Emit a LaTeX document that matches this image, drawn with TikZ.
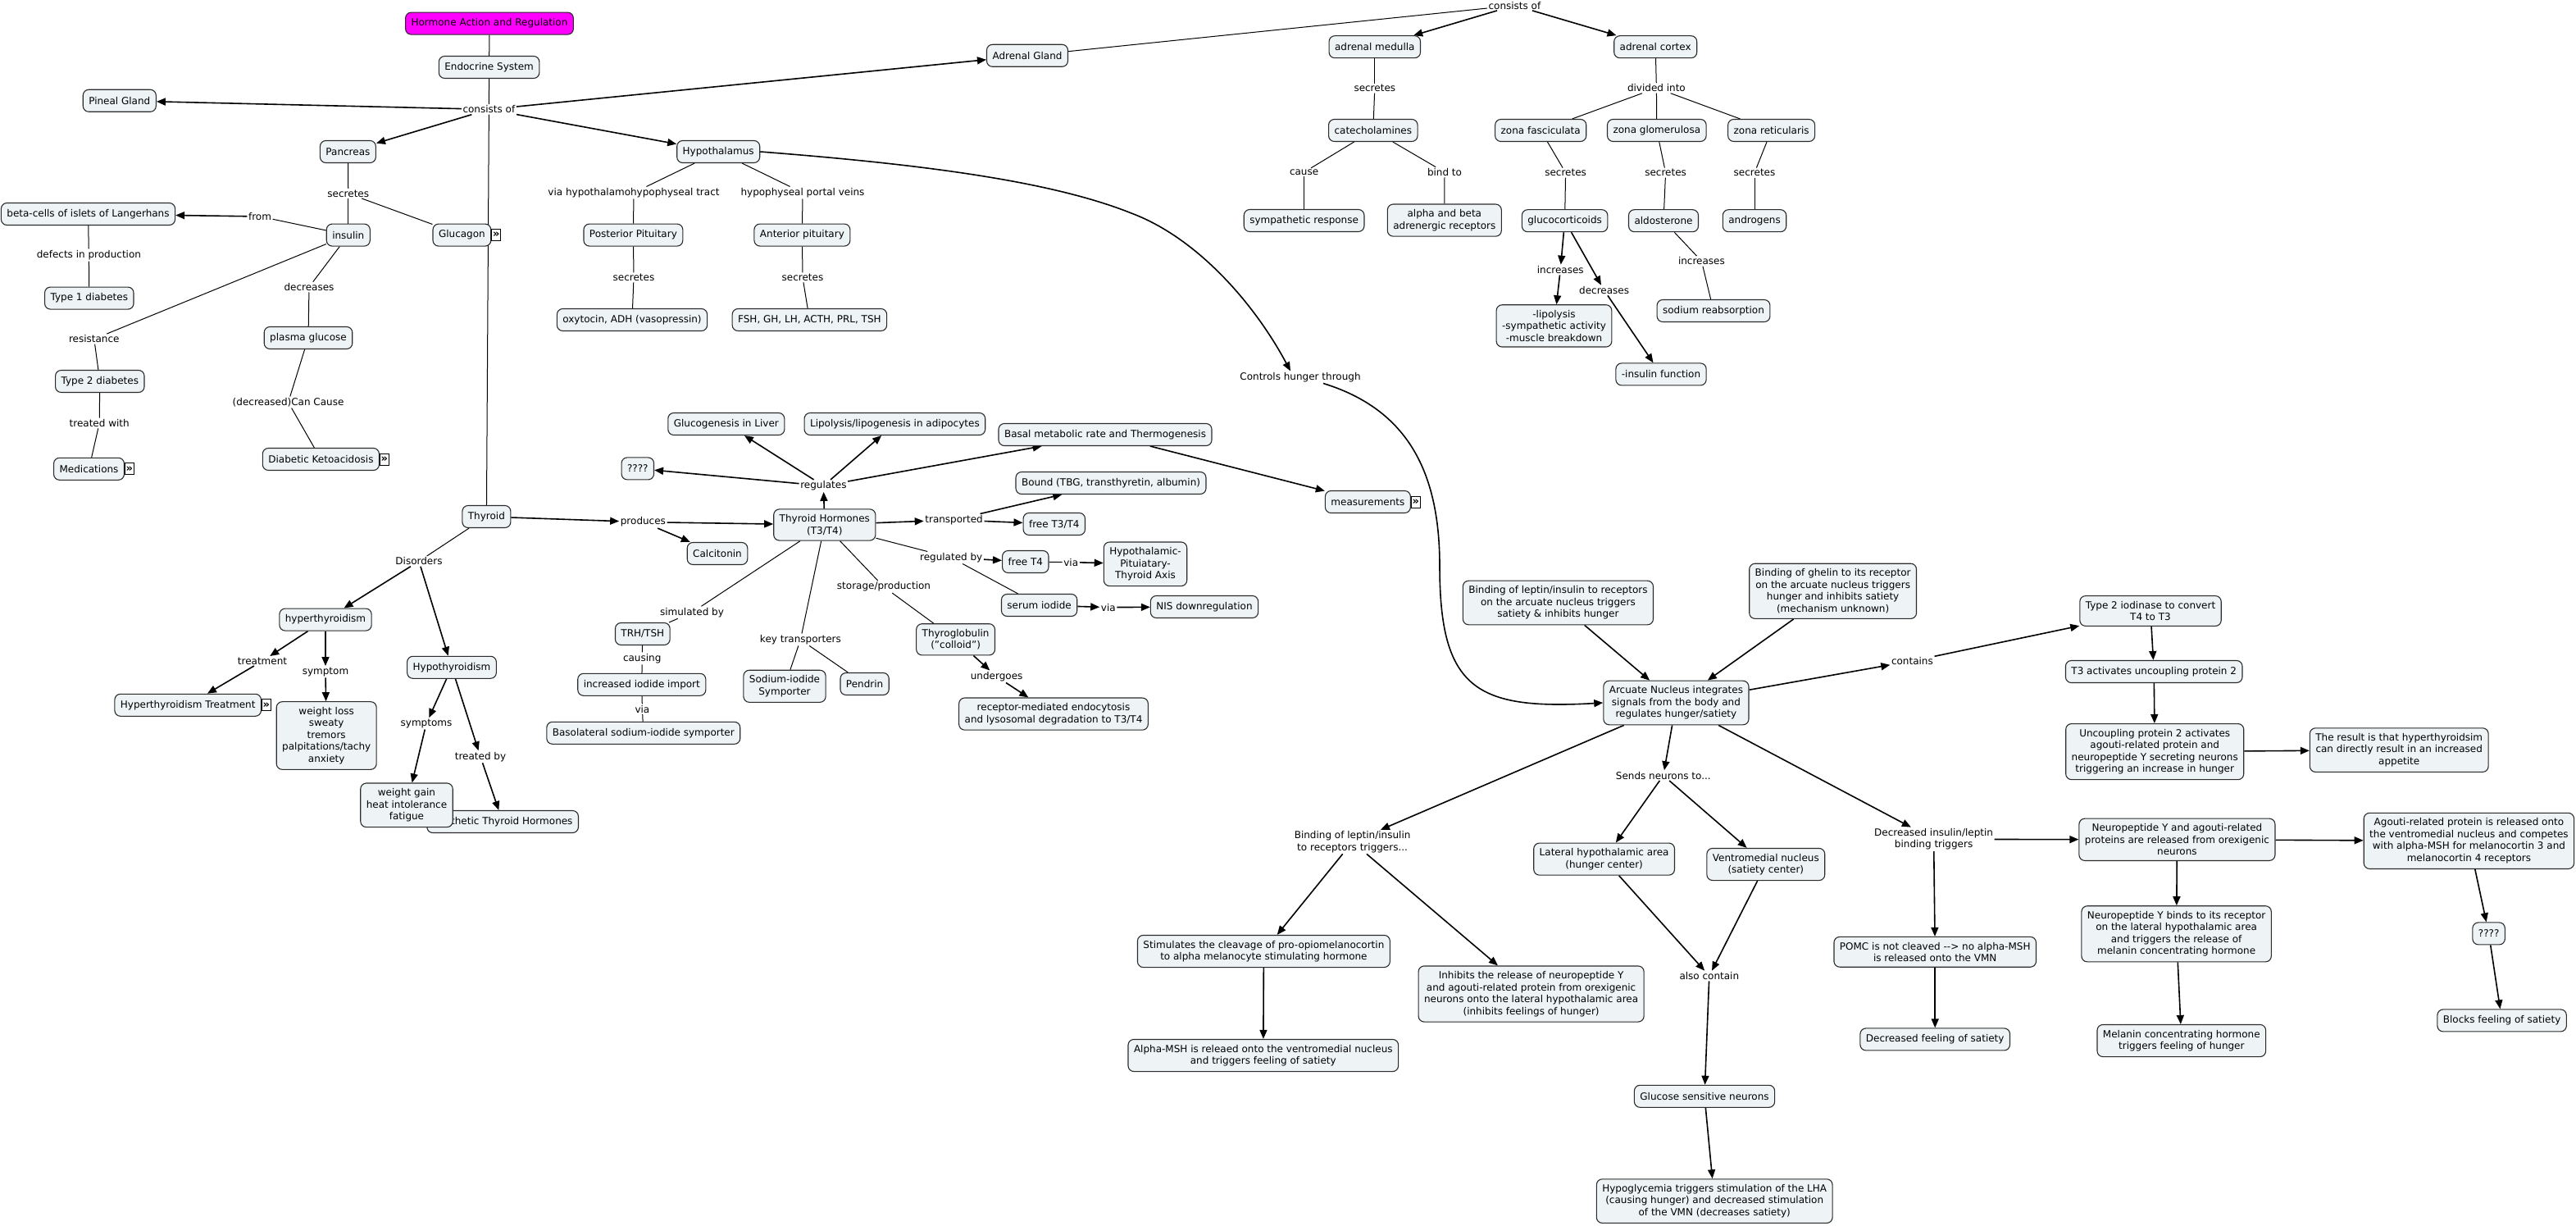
\documentclass[tikz,border=0pt]{standalone}
\usepackage{fontspec}
\setmainfont{DejaVu Sans}
\usetikzlibrary{arrows.meta, positioning, backgrounds}
\definecolor{conceptfill}{HTML}{EEF3F5}
\definecolor{conceptline}{HTML}{2B2B2B}
\definecolor{rootfill}{HTML}{FF00FF}
\newcommand{\mapfont}{\fontsize{12}{14.5}\selectfont}

\begin{document}
\begin{tikzpicture}[
    x=2pt, y=-2pt,
    concept node/.style={draw=conceptline, line width=1.1pt, rounded corners=7pt, fill=conceptfill,
      inner xsep=7pt, inner ysep=6.5pt, minimum height=27pt, align=center, font=\mapfont},
    phrase node/.style={inner sep=1.5pt, align=center, font=\mapfont},
    icon node/.style={draw, fill=white, line width=0.8pt, inner sep=0pt, minimum width=11pt, minimum height=14pt,
      font=\bfseries\fontsize{13}{13}\selectfont},
    link/.style={draw=black, line width=1pt},
    arrow link/.style={link, line width=1.6pt, -{Triangle[length=11pt, width=9pt]}}
  ]
  \useasboundingbox (0,0) rectangle (1571,747.5);

  % Nodes: endocrine system and pancreas
  \node[concept node, fill=rootfill] (horm) at (298.5,14.3) {Hormone Action and Regulation};
  \node[concept node] (endo) at (298.3,41) {Endocrine System};
  \node[phrase node] (lcons) at (298.2,66.7) {consists of};
  \node[concept node] (pineal) at (72.9,61.4) {Pineal Gland};
  \node[concept node] (adr) at (626.5,33.9) {Adrenal Gland};
  \node[concept node] (panc) at (212.2,92.5) {Pancreas};
  \node[concept node] (hypo) at (438.1,92.5) {Hypothalamus};
  \node[phrase node] (lsec1) at (212.4,118) {secretes};
  \node[concept node] (beta) at (53.75,130.5) {beta-cells of islets of Langerhans};
  \node[phrase node] (lfrom) at (158.5,132) {from};
  \node[concept node] (ins) at (212.4,143.3) {insulin};
  \node[concept node] (gluc) at (281.7,143.3) {Glucagon};
  \node[icon node, right=0pt of gluc] (glucicon) {»};
  \node[phrase node] (ldef) at (54.2,155.5) {defects in production};
  \node[concept node] (t1d) at (54.4,181.8) {Type 1 diabetes};
  \node[phrase node] (ldec) at (188.5,175) {decreases};
  \node[concept node] (pglu) at (188,206) {plasma glucose};
  \node[phrase node] (lres) at (57.4,206.7) {resistance};
  \node[concept node] (t2d) at (60.9,232.5) {Type 2 diabetes};
  \node[phrase node] (ltrw) at (60.6,258) {treated with};
  \node[concept node] (meds) at (54.25,285.9) {Medications};
  \node[icon node, right=0pt of meds] (medsicon) {»};
  \node[phrase node] (lcan) at (175.8,245.3) {(decreased)Can Cause};
  \node[concept node] (dka) at (195.7,280) {Diabetic Ketoacidosis};
  \node[icon node, right=0pt of dka] (dkaicon) {»};

  % Nodes: hypothalamus and pituitary
  \node[phrase node] (lvia) at (386.5,117.5) {via hypothalamohypophyseal tract};
  \node[phrase node] (lport) at (489.5,117.5) {hypophyseal portal veins};
  \node[concept node] (post) at (386.2,143.3) {Posterior Pituitary};
  \node[concept node] (ant) at (489.2,143.3) {Anterior pituitary};
  \node[phrase node] (lsec2) at (386.5,169.2) {secretes};
  \node[phrase node] (lsec3) at (489.5,169.2) {secretes};
  \node[concept node] (oxy) at (385.5,195) {oxytocin, ADH (vasopressin)};
  \node[concept node] (fsh) at (493.7,195) {FSH, GH, LH, ACTH, PRL, TSH};

  % Nodes: adrenal gland
  \node[phrase node] (lcons2) at (923.7,3.3) {consists of};
  \node[concept node] (med) at (838.4,28.6) {adrenal medulla};
  \node[concept node] (cort) at (1009.6,28.6) {adrenal cortex};
  \node[phrase node] (lsec4) at (838.4,53.8) {secretes};
  \node[phrase node] (ldiv) at (1010.2,53.7) {divided into};
  \node[concept node] (cat) at (837.4,79.5) {catecholamines};
  \node[concept node] (zf) at (939.6,79.5) {zona fasciculata};
  \node[concept node] (zg) at (1010.4,79.5) {zona glomerulosa};
  \node[concept node] (zr) at (1080.3,79.5) {zona reticularis};
  \node[phrase node] (lcause) at (795.3,105) {cause};
  \node[phrase node] (lbind) at (881,105) {bind to};
  \node[phrase node] (lsec5) at (954.8,105.3) {secretes};
  \node[phrase node] (lsec6) at (1015.8,105.3) {secretes};
  \node[phrase node] (lsec7) at (1070,105.3) {secretes};
  \node[concept node] (symp) at (795.3,134.5) {sympathetic response};
  \node[concept node] (ab) at (880.9,134.3) {alpha and beta\\adrenergic receptors};
  \node[concept node] (gc) at (954.3,134.6) {glucocorticoids};
  \node[concept node] (ald) at (1014.5,134.6) {aldosterone};
  \node[concept node] (andr) at (1070,134.6) {androgens};
  \node[phrase node] (linc1) at (951.6,164.5) {increases};
  \node[phrase node] (ldec2) at (978.3,177) {decreases};
  \node[phrase node] (linc2) at (1037.7,159.2) {increases};
  \node[concept node] (lipo) at (947.75,198.7) {-lipolysis\\-sympathetic activity\\-muscle breakdown};
  \node[concept node] (sod) at (1045,189.5) {sodium reabsorption};
  \node[concept node] (insf) at (1013,228.2) {-insulin function};
  \node[phrase node] (lctrl) at (793,230) {Controls hunger through};

  % Nodes: thyroid
  \node[concept node] (gliv) at (442.9,258.5) {Glucogenesis in Liver};
  \node[concept node] (lipa) at (545.7,258.5) {Lipolysis/lipogenesis in adipocytes};
  \node[concept node] (bmr) at (674,265) {Basal metabolic rate and Thermogenesis};
  \node[concept node] (qq1) at (388.9,285.7) {????};
  \node[phrase node] (lreg) at (502.2,296.2) {regulates};
  \node[concept node] (bound) at (677.5,294.5) {Bound (TBG, transthyretin, albumin)};
  \node[concept node] (meas) at (834.2,306) {measurements};
  \node[icon node, right=0pt of meas] (measicon) {»};
  \node[concept node] (thy) at (296.7,315) {Thyroid};
  \node[phrase node] (lprod) at (392.2,318.3) {produces};
  \node[concept node] (th) at (502.9,320) {Thyroid Hormones\\(T3/T4)};
  \node[phrase node] (ltrans) at (581.8,317) {transported};
  \node[concept node] (ft34) at (642.9,319.5) {free T3/T4};
  \node[concept node] (calc) at (437.5,337.5) {Calcitonin};
  \node[phrase node] (ldis) at (255.5,342.2) {Disorders};
  \node[phrase node] (lregby) at (580.1,340) {regulated by};
  \node[concept node] (ft4) at (625.4,342.5) {free T4};
  \node[phrase node] (lvia2) at (653.1,342.8) {via};
  \node[concept node] (hpt) at (698.5,343.9) {Hypothalamic-\\Pituiatary-\\Thyroid Axis};
  \node[phrase node] (lstor) at (539,357.8) {storage/production};
  \node[concept node] (serum) at (633.8,369) {serum iodide};
  \node[phrase node] (lvia3) at (675.9,370.3) {via};
  \node[concept node] (nis) at (734.5,370) {NIS downregulation};
  \node[concept node] (hyper) at (198.5,377.8) {hyperthyroidism};
  \node[phrase node] (lsim) at (422,373.4) {simulated by};
  \node[concept node] (trh) at (391.9,386.5) {TRH/TSH};
  \node[phrase node] (lkey) at (488.2,390) {key transporters};
  \node[concept node] (tgb) at (582.8,389.9) {Thyroglobulin\\("colloid")};
  \node[phrase node] (lcaus) at (391.6,401.4) {causing};
  \node[phrase node] (ltreat) at (160,403) {treatment};
  \node[phrase node] (lsymp) at (198.5,409.6) {symptom};
  \node[concept node] (hypoth) at (275.5,406.9) {Hypothyroidism};
  \node[concept node] (iodi) at (391.4,417.4) {increased iodide import};
  \node[concept node] (nis2) at (478.5,418.4) {Sodium-iodide\\Symporter};
  \node[concept node] (pend) at (527.3,417) {Pendrin};
  \node[phrase node] (lund) at (607.8,412.5) {undergoes};
  \node[concept node] (htreat) at (114.6,429.9) {Hyperthyroidism Treatment};
  \node[icon node, right=0pt of htreat] (htreaticon) {»};
  \node[concept node] (wloss) at (199.1,448.5) {weight loss\\sweaty\\tremors\\palpitations/tachy\\anxiety};
  \node[phrase node] (lvia4) at (391.7,432.4) {via};
  \node[concept node] (baso) at (392.4,446.9) {Basolateral sodium-iodide symporter};
  \node[concept node] (rme) at (642.5,435.3) {receptor-mediated endocytosis\\and lysosomal degradation to T3/T4};
  \node[phrase node] (lsymps) at (260,441.2) {symptoms};
  \node[phrase node] (ltrby) at (293,461.4) {treated by};
  \node[concept node, anchor=east] (synth) at (353,501) {Synthetic Thyroid Hormones};
  \node[concept node] (wgain) at (248,490.9) {weight gain\\heat intolerance\\fatigue};

  % Nodes: hunger and satiety
  \node[concept node] (blep) at (950.2,367.5) {Binding of leptin/insulin to receptors\\on the arcuate nucleus triggers\\satiety \& inhibits hunger};
  \node[concept node] (bghr) at (1117.8,360.4) {Binding of ghelin to its receptor\\on the arcuate nucleus triggers\\hunger and inhibits satiety\\(mechanism unknown)};
  \node[concept node] (t2i) at (1311.5,372.5) {Type 2 iodinase to convert\\T4 to T3};
  \node[phrase node] (lcont) at (1166.2,403) {contains};
  \node[concept node] (t3a) at (1313.6,409.5) {T3 activates uncoupling protein 2};
  \node[concept node] (arc) at (1022.2,428.5) {Arcuate Nucleus integrates\\signals from the body and\\regulates hunger/satiety};
  \node[concept node] (ucp) at (1314.1,458.3) {Uncoupling protein 2 activates\\agouti-related protein and\\neuropeptide Y secreting neurons\\triggering an increase in hunger};
  \node[concept node] (res) at (1463.1,457.3) {The result is that hyperthyroidsim\\can directly result in an increased\\appetite};
  \node[phrase node] (lsend) at (1014.4,472.8) {Sends neurons to...};
  \node[phrase node] (lbind2) at (824.8,513.3) {Binding of leptin/insulin\\to receptors triggers...};
  \node[concept node] (lha) at (978.3,523.8) {Lateral hypothalamic area\\(hunger center)};
  \node[concept node] (vmn) at (1076.9,527) {Ventromedial nucleus\\(satiety center)};
  \node[phrase node] (ldecr) at (1179.3,511.7) {Decreased insulin/leptin\\binding triggers};
  \node[concept node] (npy) at (1327.7,511.9) {Neuropeptide Y and agouti-related\\proteins are released from orexigenic\\neurons};
  \node[concept node] (agrp) at (1505.7,512.7) {Agouti-related protein is released onto\\the ventromedial nucleus and competes\\with alpha-MSH for melanocortin 3 and\\melanocortin 4 receptors};
  \node[concept node] (npyb) at (1327.3,569.4) {Neuropeptide Y binds to its receptor\\on the lateral hypothalamic area\\and triggers the release of\\melanin concentrating hormone};
  \node[concept node] (qq2) at (1517.8,569.2) {????};
  \node[concept node] (stim) at (770.7,580) {Stimulates the cleavage of pro-opiomelanocortin\\to alpha melanocyte stimulating hormone};
  \node[concept node] (inh) at (933.8,606) {Inhibits the release of neuropeptide Y\\and agouti-related protein from orexigenic\\neurons onto the lateral hypothalamic area\\(inhibits feelings of hunger)};
  \node[phrase node] (lalso) at (1042.4,595) {also contain};
  \node[concept node] (pomc) at (1180.1,580.4) {POMC is not cleaved -\kern0pt-\kern0pt> no alpha-MSH\\is released onto the VMN};
  \node[concept node] (blocks) at (1525.8,622.2) {Blocks feeling of satiety};
  \node[concept node] (dfs) at (1180.1,633.7) {Decreased feeling of satiety};
  \node[concept node] (mch) at (1330.4,634.5) {Melanin concentrating hormone\\triggers feeling of hunger};
  \node[concept node] (amsh) at (770.4,643.5) {Alpha-MSH is releaed onto the ventromedial nucleus\\and triggers feeling of satiety};
  \node[concept node] (gsn) at (1039.5,668.4) {Glucose sensitive neurons};
  \node[concept node] (hypog) at (1045.6,732.3) {Hypoglycemia triggers stimulation of the LHA\\(causing hunger) and decreased stimulation\\of the VMN (decreases satiety)};

  % Edges with labels
  \begin{scope}[on background layer]
    \draw[link] (horm) -- (endo);
    \draw[link] (endo) -- (lcons);
    \draw[link] (lcons) -- (thy);
    \draw[arrow link] (lcons) -- (pineal);
    \draw[arrow link] (lcons) -- (panc);
    \draw[arrow link] (lcons) -- (hypo);
    \draw[arrow link] (lcons) -- (adr);

    \draw[link] (panc) -- (lsec1);
    \draw[link] (lsec1) -- (ins);
    \draw[link] (lsec1) -- (gluc);
    \draw[link] (ins) -- (lfrom);
    \draw[arrow link] (lfrom) -- (beta);
    \draw[link] (beta) -- (ldef);
    \draw[link] (ldef) -- (t1d);
    \draw[link] (ins) -- (ldec);
    \draw[link] (ldec) -- (pglu);
    \draw[link] (ins) -- (lres);
    \draw[link] (lres) -- (t2d);
    \draw[link] (t2d) -- (ltrw);
    \draw[link] (ltrw) -- (meds);
    \draw[link] (pglu) -- (lcan);
    \draw[link] (lcan) -- (dka);

    \draw[link] (hypo) -- (lvia);
    \draw[link] (lvia) -- (post);
    \draw[link] (hypo) -- (lport);
    \draw[link] (lport) -- (ant);
    \draw[link] (post) -- (lsec2);
    \draw[link] (lsec2) -- (oxy);
    \draw[link] (ant) -- (lsec3);
    \draw[link] (lsec3) -- (fsh);

    \draw[link] (adr) -- (lcons2);
    \draw[arrow link] (lcons2) -- (med);
    \draw[arrow link] (lcons2) -- (cort);
    \draw[link] (med) -- (lsec4);
    \draw[link] (lsec4) -- (cat);
    \draw[link] (cat) -- (lcause);
    \draw[link] (lcause) -- (symp);
    \draw[link] (cat) -- (lbind);
    \draw[link] (lbind) -- (ab);
    \draw[link] (cort) -- (ldiv);
    \draw[link] (ldiv) -- (zf);
    \draw[link] (ldiv) -- (zg);
    \draw[link] (ldiv) -- (zr);
    \draw[link] (zf) -- (lsec5);
    \draw[link] (lsec5) -- (gc);
    \draw[link] (zg) -- (lsec6);
    \draw[link] (lsec6) -- (ald);
    \draw[link] (zr) -- (lsec7);
    \draw[link] (lsec7) -- (andr);
    \draw[arrow link] (gc) -- (linc1);
    \draw[arrow link] (linc1) -- (lipo);
    \draw[arrow link] (gc) -- (ldec2);
    \draw[arrow link] (ldec2) -- (insf);
    \draw[link] (ald) -- (linc2);
    \draw[link] (linc2) -- (sod);

    \draw[arrow link] (hypo.east) .. controls (560,100) and (640,110) .. (690,130)
      .. controls (730,145) and (765,185) .. ([xshift=-12pt]lctrl.north);
    \draw[arrow link] ([xshift=28pt]lctrl.south) .. controls (860,250) and (878,290) .. (878,345)
      .. controls (878,420) and (900,433) .. (arc.west);

    \draw[arrow link] (thy) -- (lprod);
    \draw[arrow link] (lprod) -- (th);
    \draw[arrow link] (lprod) -- (calc);
    \draw[link] (thy) -- (ldis);
    \draw[arrow link] (ldis) -- (hyper);
    \draw[arrow link] (ldis) -- (hypoth);
    \draw[arrow link] (hyper) -- (ltreat);
    \draw[arrow link] (ltreat) -- (htreat);
    \draw[arrow link] (hyper) -- (lsymp);
    \draw[arrow link] (lsymp) -- (wloss);
    \draw[arrow link] (hypoth) -- (lsymps);
    \draw[arrow link] (lsymps) -- (wgain);
    \draw[arrow link] (hypoth) -- (ltrby);
    \draw[arrow link] (ltrby) -- (synth);

    \draw[arrow link] (th) -- (lreg);
    \draw[arrow link] (lreg) -- (gliv);
    \draw[arrow link] (lreg) -- (lipa);
    \draw[arrow link] (lreg) -- (bmr);
    \draw[arrow link] (lreg) -- (qq1);
    \draw[arrow link] (bmr) -- (meas);
    \draw[arrow link] (th) -- (ltrans);
    \draw[arrow link] (ltrans) -- (ft34);
    \draw[arrow link] (ltrans) -- (bound);
    \draw[link] (th) -- (lregby);
    \draw[arrow link] (lregby) -- (ft4);
    \draw[link] (lregby) -- (serum);
    \draw[link] (ft4) -- (lvia2);
    \draw[arrow link] (lvia2) -- (hpt);
    \draw[arrow link] (serum) -- (lvia3);
    \draw[arrow link] (lvia3) -- (nis);
    \draw[link] (th) -- (lsim);
    \draw[link] (lsim) -- (trh);
    \draw[link] (trh) -- (lcaus);
    \draw[link] (lcaus) -- (iodi);
    \draw[link] (iodi) -- (lvia4);
    \draw[link] (lvia4) -- (baso);
    \draw[link] (th) -- (lkey);
    \draw[link] (lkey) -- (nis2);
    \draw[link] (lkey) -- (pend);
    \draw[link] (th) -- (lstor);
    \draw[link] (lstor) -- (tgb);
    \draw[arrow link] (tgb) -- (lund);
    \draw[arrow link] (lund) -- (rme);

    \draw[arrow link] (blep) -- (arc);
    \draw[arrow link] (bghr) -- (arc);
    \draw[arrow link] (arc) -- (lcont);
    \draw[arrow link] (lcont) -- (t2i);
    \draw[arrow link] (t2i) -- (t3a);
    \draw[arrow link] (t3a) -- (ucp);
    \draw[arrow link] (ucp) -- (res);
    \draw[arrow link] (arc) -- (lsend);
    \draw[arrow link] (lsend) -- (lha);
    \draw[arrow link] (lsend) -- (vmn);
    \draw[arrow link] (arc) -- (lbind2);
    \draw[arrow link] (lbind2) -- (stim);
    \draw[arrow link] (lbind2) -- (inh);
    \draw[arrow link] (arc) -- (ldecr);
    \draw[arrow link] (ldecr) -- (npy);
    \draw[arrow link] (ldecr) -- (pomc);
    \draw[arrow link] (npy) -- (agrp);
    \draw[arrow link] (npy) -- (npyb);
    \draw[arrow link] (agrp) -- (qq2);
    \draw[arrow link] (qq2) -- (blocks);
    \draw[arrow link] (npyb) -- (mch);
    \draw[arrow link] (pomc) -- (dfs);
    \draw[arrow link] (stim) -- (amsh);
    \draw[arrow link] (lha) -- (lalso);
    \draw[arrow link] (vmn) -- (lalso);
    \draw[arrow link] (lalso) -- (gsn);
    \draw[arrow link] (gsn) -- (hypog);
  \end{scope}
\end{tikzpicture}
\end{document}
